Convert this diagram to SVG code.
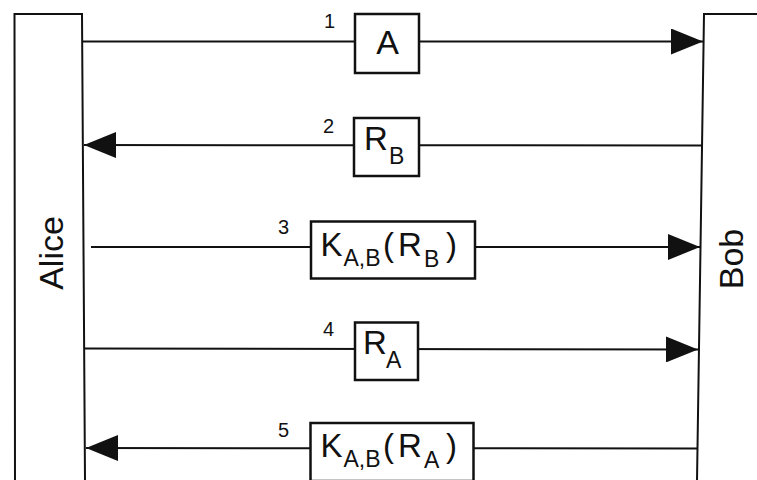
<svg xmlns="http://www.w3.org/2000/svg" width="757" height="480" viewBox="0 0 757 480">
<style>
.ln{stroke:#111;stroke-width:2;fill:none}
.bx{stroke:#111;stroke-width:2.5;fill:#fff}
.t{font-family:"Liberation Sans",Arial,sans-serif;fill:#111}
.m{font-size:33px}
.s{font-size:23px}
.n{font-size:20px}
.p{font-size:34px}
</style>
<defs>
<marker id="ah" markerUnits="userSpaceOnUse" markerWidth="32" markerHeight="26" refX="32" refY="13" orient="auto">
<path d="M0,0 L32,13 L0,26 Z" fill="#111"/>
</marker>
</defs>
<rect width="757" height="480" fill="#fff"/>
<g id="alice">
<path class="ln" d="M15,481 L14.5,14 L82,14 L85,481"/>
<text class="t p" transform="translate(63,253) rotate(-90)" text-anchor="middle">Alice</text>
</g>
<g id="bob">
<path class="ln" d="M697,481 L704,14 L758,14"/>
<text class="t p" transform="translate(743,259) rotate(-90)" text-anchor="middle">Bob</text>
</g>
<g id="connectors">
<line class="ln" x1="82" y1="41.5" x2="703" y2="41.5" marker-end="url(#ah)"/>
<line class="ln" x1="703" y1="145.5" x2="84" y2="145" marker-end="url(#ah)"/>
<line class="ln" x1="91" y1="247" x2="700" y2="247" marker-end="url(#ah)"/>
<line class="ln" x1="85" y1="348.5" x2="698" y2="349.5" marker-end="url(#ah)"/>
<line class="ln" x1="697" y1="448.5" x2="86" y2="448" marker-end="url(#ah)"/>
</g>
<g id="msg1">
<rect class="bx" x="355" y="14" width="64" height="59"/>
<text class="t p" x="387.5" y="53.5" text-anchor="middle">A</text>
<text class="t n" x="324" y="27.5">1</text>
</g>
<g id="msg2">
<rect class="bx" x="354" y="118" width="65" height="58"/>
<text class="t m" x="364" y="149.5">R</text>
<text class="t s" x="389" y="163.5">B</text>
<text class="t n" x="323" y="133">2</text>
</g>
<g id="msg3">
<rect class="bx" x="311" y="221.5" width="164" height="57"/>
<text class="t m" x="320.5" y="255.5">K</text>
<text class="t s" x="343.5" y="266">A,B</text>
<text class="t m" x="383" y="255.5">(</text>
<text class="t m" x="398" y="255.5">R</text>
<text class="t s" x="424" y="267">B</text>
<text class="t m" x="446" y="255.5">)</text>
<text class="t n" x="278" y="234">3</text>
</g>
<g id="msg4">
<rect class="bx" x="355" y="322.5" width="63" height="57.5"/>
<text class="t m" x="363" y="353.5">R</text>
<text class="t s" x="386" y="367.5">A</text>
<text class="t n" x="323" y="336">4</text>
</g>
<g id="msg5">
<rect class="bx" x="310.5" y="423" width="163" height="58"/>
<text class="t m" x="320.5" y="456.5">K</text>
<text class="t s" x="343.5" y="467">A,B</text>
<text class="t m" x="383" y="456.5">(</text>
<text class="t m" x="398" y="456.5">R</text>
<text class="t s" x="424" y="468">A</text>
<text class="t m" x="446" y="456.5">)</text>
<text class="t n" x="278" y="436.5">5</text>
</g>
</svg>
